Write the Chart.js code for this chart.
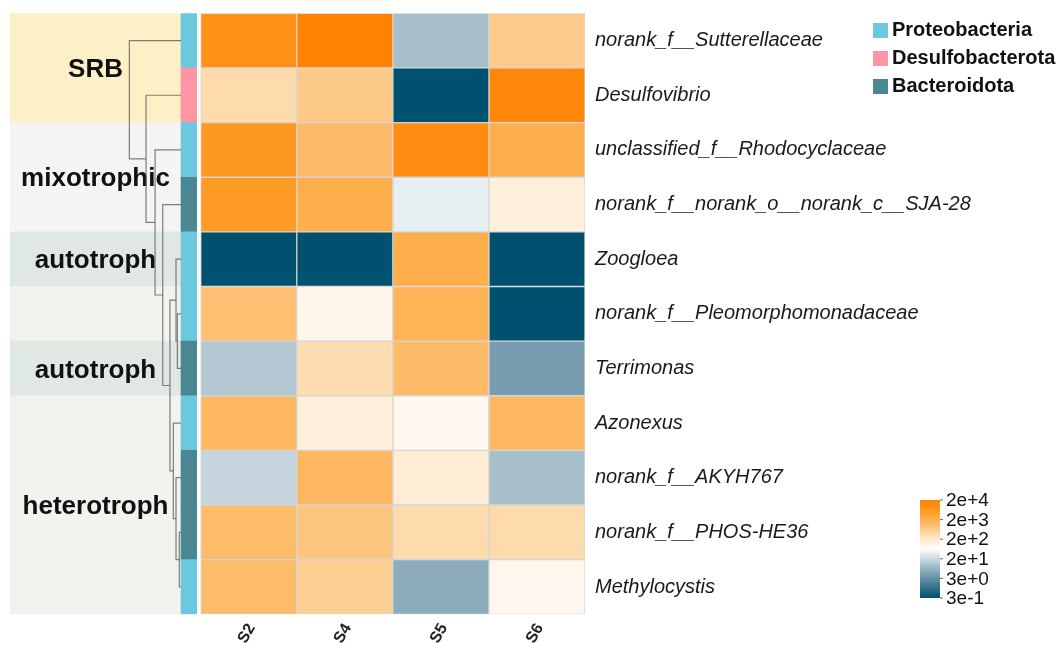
<!DOCTYPE html>
<html>
<head>
<meta charset="utf-8">
<title>Functional groups heatmap</title>
<script src="https://cdn.jsdelivr.net/npm/chart.js@4.4.1/dist/chart.umd.min.js"></script>
<style>
  html, body { margin: 0; padding: 0; background: #fff; }
  #wrap { width: 1056px; height: 647px; }
</style>
</head>
<body>
<div id="wrap"><canvas id="heat" width="1056" height="647"></canvas></div>
<script>
// ---- data (rows top to bottom) ----
const samples = ["S2", "S4", "S5", "S6"];
const taxa = [
  "norank_f__Sutterellaceae",
  "Desulfovibrio",
  "unclassified_f__Rhodocyclaceae",
  "norank_f__norank_o__norank_c__SJA-28",
  "Zoogloea",
  "norank_f__Pleomorphomonadaceae",
  "Terrimonas",
  "Azonexus",
  "norank_f__AKYH767",
  "norank_f__PHOS-HE36",
  "Methylocystis",
];
// abundance per sample
const S2 = [9100, 405, 6600, 5900, 0.3, 1120, 15, 1550, 23, 1320, 1320];
const S4 = [17800, 790, 1380, 2400, 0.3, 120, 365, 170, 1550, 890, 650];
const S5 = [12, 0.3, 11500, 47, 2400, 1940, 1380, 108, 190, 405, 6.8];
const S6 = [710, 14400, 2400, 160, 0.3, 0.3, 4.4, 1550, 12, 405, 114];

const rowPhylum = [
  "Proteobacteria", "Desulfobacterota", "Proteobacteria", "Bacteroidota",
  "Proteobacteria", "Proteobacteria", "Bacteroidota", "Proteobacteria",
  "Bacteroidota", "Bacteroidota", "Proteobacteria",
];
const phylumNames = ["Proteobacteria", "Desulfobacterota", "Bacteroidota"];

// functional groups, as row ranges
const bandLabels = ["SRB", "mixotrophic", "autotroph", "", "autotroph", "heterotroph"];
const bandStart = [0, 2, 4, 5, 6, 7];
const bandEnd = [1, 3, 4, 5, 6, 10];

// row clustering: [left, right, height]; numbers are rows, "mN" earlier merges
const dendroMerge = [
  [9, 10, 0.018],
  [5, 6, 0.038],
  [8, "m0", 0.052],
  [4, "m1", 0.052],
  [7, "m2", 0.08],
  ["m3", "m4", 0.115],
  [3, "m5", 0.19],
  [2, "m6", 0.27],
  [1, "m7", 0.364],
  [0, "m8", 0.538],
];

const colorbarLabels = ["3e-1", "3e+0", "2e+1", "2e+2", "2e+3", "2e+4"];
const colorMin = 0.3;
const colorMax = 20000;

// ---- styling / layout ----
const FONT = "'Liberation Sans', Arial, sans-serif";
const X_MIN = -1.985;        // left edge of group bands
const STRIP_LEFT = -0.205;   // phylum strip
const STRIP_RIGHT = -0.042;

const PHYLUM_COLORS = {
  Proteobacteria: "#6BC8DF",
  Desulfobacterota: "#FD95A4",
  Bacteroidota: "#4B8792",
};
const BAND_COLORS = {
  SRB: "#FEF0C6",
  mixotrophic: "#F4F4F4",
  autotroph: "#E0E8E4",
  "": "#F0F3EE",
  heterotroph: "#F0F3EE",
};

const RAMP = [
  [0, [0, 80, 111]],
  [0.25, [124, 160, 178]],
  [0.5, [255, 255, 255]],
  [0.62, [254, 227, 192]],
  [0.75, [253, 189, 108]],
  [0.87, [253, 160, 42]],
  [1, [255, 128, 0]],
];

function rampColor(t) {
  t = Math.min(Math.max(t, 0), 1);
  for (let i = 1; i < RAMP.length; i++) {
    if (t <= RAMP[i][0]) {
      const [t0, c0] = RAMP[i - 1];
      const [t1, c1] = RAMP[i];
      const f = (t - t0) / (t1 - t0);
      const c = c0.map((v, k) => Math.round(v + (c1[k] - v) * f));
      return `rgb(${c[0]},${c[1]},${c[2]})`;
    }
  }
  return "rgb(255,128,0)";
}

const LOG_MIN = Math.log10(colorMin);
const LOG_MAX = Math.log10(colorMax);
function colorFor(v) {
  return rampColor((Math.log10(v) - LOG_MIN) / (LOG_MAX - LOG_MIN));
}

function bandOfRow(r) {
  for (let i = 0; i < bandLabels.length; i++) {
    if (r >= bandStart[i] && r <= bandEnd[i]) return bandLabels[i];
  }
  return "";
}

// ---- datasets ----
const abundance = [S2, S4, S5, S6];
const rowIdx = taxa.map((_, r) => r);

const barCommon = {
  type: "bar",
  indexAxis: "y",
  grouped: false,
  barPercentage: 1,
  categoryPercentage: 1,
};

const bandSet = {
  ...barCommon,
  label: "groups",
  order: 3,
  data: rowIdx.map((r) => ({ y: r, x: [X_MIN, STRIP_LEFT] })),
  backgroundColor: rowIdx.map((r) => BAND_COLORS[bandOfRow(r)]),
  borderWidth: 0,
};

const stripSet = {
  ...barCommon,
  label: "phylum",
  order: 2,
  data: rowIdx.map((r) => ({ y: r, x: [STRIP_LEFT, STRIP_RIGHT] })),
  backgroundColor: rowPhylum.map((p) => PHYLUM_COLORS[p]),
  borderWidth: 0,
};

const heatSets = samples.map((name, si) => ({
  ...barCommon,
  label: name,
  order: 2,
  data: rowIdx.map((r) => ({ y: r, x: [si, si + 1] })),
  backgroundColor: abundance[si].map(colorFor),
  borderColor: "#D5D5D5",
  borderWidth: 1,
  borderSkipped: false,
}));

// dendrogram: each merge is a bracket drawn as a small line
const nodes = {};
const nodeY = (ref) => (typeof ref === "number" ? ref : nodes[ref].y);
const nodeH = (ref) => (typeof ref === "number" ? 0 : nodes[ref].h);
const dendroSets = dendroMerge.map(([a, b, h], i) => {
  nodes["m" + i] = { y: (nodeY(a) + nodeY(b)) / 2, h: h };
  return {
    type: "line",
    indexAxis: "x",
    label: "m" + i,
    order: 1,
    data: [
      { x: STRIP_LEFT - nodeH(a), y: nodeY(a) },
      { x: STRIP_LEFT - h, y: nodeY(a) },
      { x: STRIP_LEFT - h, y: nodeY(b) },
      { x: STRIP_LEFT - nodeH(b), y: nodeY(b) },
    ],
    borderColor: "rgba(95,95,95,0.8)",
    borderWidth: 1.2,
    pointRadius: 0,
    tension: 0,
    fill: false,
  };
});

// ---- decorations: group names, phylum legend, colour key ----
const decor = {
  id: "decor",
  afterDatasetDraw(chart, args) {
    if (args.index !== 0) return;
    const { ctx, scales: { x, y } } = chart;
    ctx.save();
    ctx.font = `bold 26px ${FONT}`;
    ctx.fillStyle = "#111";
    ctx.textAlign = "center";
    ctx.textBaseline = "middle";
    const cx = (x.getPixelForValue(X_MIN) + x.getPixelForValue(STRIP_LEFT)) / 2;
    bandLabels.forEach((lab, i) => {
      if (!lab) return;
      const cy = (y.getPixelForValue(bandStart[i]) + y.getPixelForValue(bandEnd[i])) / 2;
      ctx.fillText(lab, cx, cy + 2);
    });
    ctx.restore();
  },
  afterDraw(chart) {
    const ctx = chart.ctx;
    ctx.save();

    // phylum legend
    ctx.font = `bold 20px ${FONT}`;
    ctx.textAlign = "left";
    ctx.textBaseline = "middle";
    phylumNames.forEach((p, i) => {
      const top = 23 + i * 28;
      ctx.fillStyle = PHYLUM_COLORS[p];
      ctx.fillRect(873, top, 15, 15);
      ctx.fillStyle = "#111";
      ctx.fillText(p, 892, top + 7.5);
    });

    // colour key
    const barX = 920, barW = 20, barTop = 500, barBottom = 598;
    const grad = ctx.createLinearGradient(0, barBottom, 0, barTop);
    for (let k = 0; k <= 40; k++) {
      const t = k / 40;
      grad.addColorStop(t, rampColor(t));
    }
    ctx.fillStyle = grad;
    ctx.fillRect(barX, barTop, barW, barBottom - barTop);
    ctx.font = `19px ${FONT}`;
    ctx.fillStyle = "#111";
    ctx.strokeStyle = "#666";
    ctx.lineWidth = 1;
    colorbarLabels.forEach((lab, i) => {
      const yy = barBottom - (i / (colorbarLabels.length - 1)) * (barBottom - barTop);
      ctx.beginPath();
      ctx.moveTo(barX + barW, yy);
      ctx.lineTo(barX + barW + 3, yy);
      ctx.stroke();
      ctx.fillText(lab, barX + barW + 6, yy + 1);
    });
    ctx.restore();
  },
};

Chart.defaults.font.family = FONT;

new Chart(document.getElementById("heat"), {
  type: "bar",
  data: {
    datasets: [bandSet, stripSet, ...heatSets, ...dendroSets],
  },
  plugins: [decor],
  options: {
    indexAxis: "y",
    responsive: false,
    animation: false,
    events: [],
    devicePixelRatio: 1,
    layout: { autoPadding: false, padding: { top: 13.3, left: 10, right: 0, bottom: 0 } },
    plugins: {
      legend: { display: false },
      tooltip: { enabled: false },
    },
    scales: {
      x: {
        type: "linear",
        position: "bottom",
        offset: false,
        min: X_MIN,
        max: samples.length,
        grid: { display: false, drawTicks: false },
        border: { display: false },
        afterBuildTicks: (scale) => {
          scale.ticks = samples.map((_, i) => ({ value: i + 0.5 }));
        },
        afterFit: (scale) => {
          scale.height = 647 - 614.3;
          scale.paddingLeft = 0;
          scale.paddingRight = 0;
        },
        ticks: {
          autoSkip: false,
          minRotation: 60,
          maxRotation: 60,
          padding: 6,
          labelOffset: 3,
          color: "#222",
          font: { size: 16, weight: "bold" },
          callback: (value, index) => samples[index],
        },
      },
      y: {
        type: "linear",
        position: "right",
        offset: false,
        min: -0.5,
        max: taxa.length - 0.5,
        reverse: true,
        grid: { display: false, drawTicks: false },
        border: { display: false },
        afterBuildTicks: (scale) => {
          scale.ticks = taxa.map((_, i) => ({ value: i }));
        },
        afterFit: (scale) => {
          scale.width = 1056 - 585;
          scale.paddingTop = 0;
          scale.paddingBottom = 0;
        },
        ticks: {
          autoSkip: false,
          padding: 10,
          color: "#1a1a1a",
          font: { size: 20, style: "italic" },
          callback: (value, index) => taxa[index],
        },
      },
    },
  },
});
</script>
</body>
</html>
